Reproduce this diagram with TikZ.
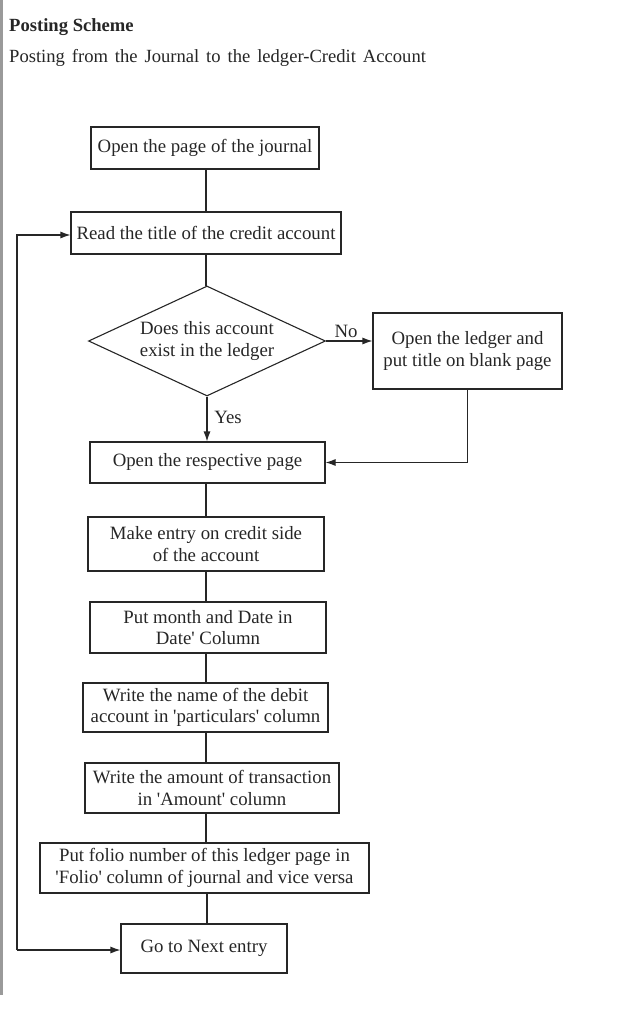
\documentclass[tikz,border=0pt]{standalone}
\usepackage{fontspec}
\setmainfont{Liberation Serif}
\usetikzlibrary{shapes.geometric,arrows.meta}
\definecolor{ink}{HTML}{262626}
\definecolor{bar}{HTML}{9A9A9A}
\newcommand{\sq}{\textquotesingle}
\begin{document}
\begin{tikzpicture}[x=1pt,y=-1pt,
  font=\fontsize{18.8}{21.7}\selectfont,
  every node/.style={text=ink},
  stepbox/.style={draw=ink,line width=1.1pt,rectangle,inner sep=0pt,align=center},
  decision/.style={draw=ink,line width=1.1pt,diamond,aspect=2.15,inner sep=0pt,align=center,minimum width=237pt,minimum height=110pt},
  conn/.style={draw=ink,line width=1.1pt},
  arr/.style={conn,-{Latex[length=10pt,width=7pt]}},
  lbl/.style={inner sep=0pt}]
\useasboundingbox (0,0) rectangle (629,1024);
\fill[bar] (0,0) rectangle (3,995);

\node[lbl,anchor=base west,font=\fontsize{18.6}{21.7}\selectfont\bfseries] (title) at (9,31.5) {Posting Scheme};
\node[lbl,anchor=base west,font=\fontsize{18.6}{21.7}\selectfont] (sub) at (9,63) {\spaceskip=6.9pt plus 1pt Posting from the Journal to the ledger-Credit Account};

\node[stepbox,minimum width=228pt,minimum height=42pt] (b1) at (205,148) {Open the page of the journal};
\node[stepbox,minimum width=270pt,minimum height=42pt] (b2) at (206,233) {Read the title of the credit account};
\node[decision] (dia) at (207,341) {Does this account\\exist in the ledger};
\node[stepbox,minimum width=189pt,minimum height=76pt] (b3) at (467.5,351) {Open the ledger and\\put title on blank page};
\node[stepbox,minimum width=235pt,minimum height=41pt] (b4) at (207.5,462.5) {Open the respective page};
\node[stepbox,minimum width=236pt,minimum height=54pt] (b5) at (206,544) {Make entry on credit side\\of the account};
\node[stepbox,minimum width=236pt,minimum height=51pt] (b6) at (208,627.5) {Put month and Date in\\Date\sq{} Column};
\node[stepbox,minimum width=245pt,minimum height=49pt] (b7) at (205.5,707.5) {Write the name of the debit\\account in \sq particulars\sq{} column};
\node[stepbox,minimum width=254pt,minimum height=50pt] (b8) at (212,788) {Write the amount of transaction\\in \sq Amount\sq{} column};
\node[stepbox,minimum width=329pt,minimum height=50pt] (b9) at (204.5,868) {Put folio number of this ledger page in\\\sq Folio\sq{} column of journal and vice versa};
\node[stepbox,minimum width=166pt,minimum height=49pt] (b10) at (204,948.5) {Go to Next entry};

\node[lbl] (yes) at (228,417) {Yes};
\node[lbl] (no) at (346,331) {No};

\coordinate (loopT) at (17,235);
\coordinate (loopB) at (17,950);

\draw[conn] (206,169) -- (206,212);
\draw[conn] (206,254) -- (206,286);
\draw[arr] (dia.south) -- (dia.south |- b4.north);
\draw[arr] (dia.east) -- (b3.west |- dia.east);
\draw[arr] (b3.south) |- (b4.east);
\draw[conn] (206,483) -- (206,517);
\draw[conn] (206,571) -- (206,602);
\draw[conn] (206,653) -- (206,683);
\draw[conn] (206,732) -- (206,763);
\draw[conn] (206,813) -- (206,843);
\draw[conn] (207,893) -- (207,924);
\draw[arr] (loopB) -- (b10.west |- loopB);
\draw[arr] (loopB) -- (loopT) -- (b2.west |- loopT);
\end{tikzpicture}
\end{document}
